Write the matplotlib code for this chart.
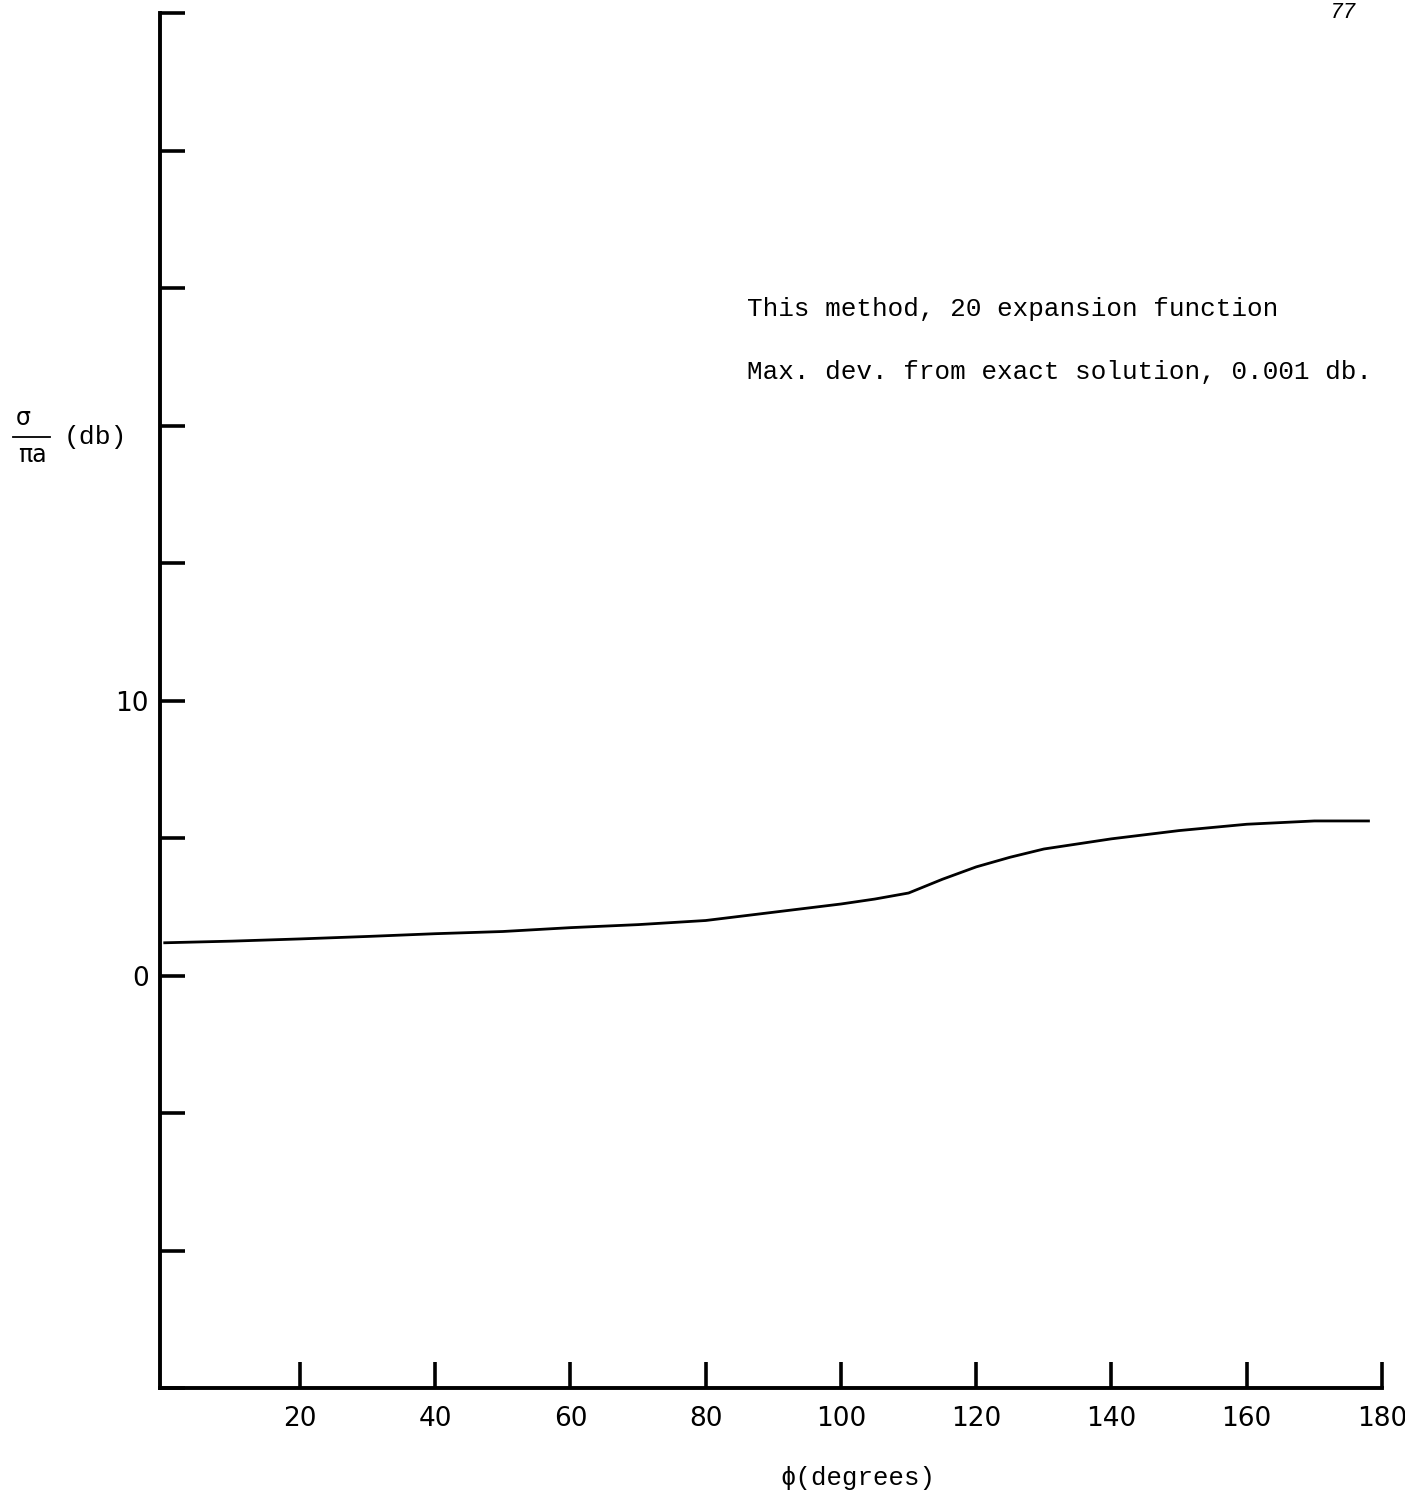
#!/usr/bin/env python3
"""
Normalized scattering cross-section vs. angle (scanned figure recreation)
"""

import matplotlib
matplotlib.use("Agg")
import matplotlib.pyplot as plt
from matplotlib.lines import Line2D

# curve
phi = [0, 10, 20, 30, 40, 50, 60, 70, 80, 90, 100, 105, 110, 115, 120,
       125, 130, 140, 150, 160, 170, 178]
sigma_db = [1.19, 1.25, 1.33, 1.42, 1.52, 1.60, 1.74, 1.85, 2.00, 2.30, 2.60,
            2.78, 3.00, 3.50, 3.95, 4.30, 4.60, 4.97, 5.27, 5.50, 5.62, 5.62]

xticks = [20, 40, 60, 80, 100, 120, 140, 160, 180]
yticks = [-15, -10, -5, 0, 5, 10, 15, 20, 25, 30, 35]
ytick_labels = ["", "", "", "0", "", "10", "", "", "", "", ""]

note_lines = ["This method, 20 expansion function",
              "Max. dev. from exact solution, 0.001 db."]

mono = ["Liberation Mono", "DejaVu Sans Mono"]
W, H = 1405, 1496


def fx(px):
    return px / W


def fy(py):
    return 1 - py / H


fig = plt.figure(figsize=(14.05, 14.96), dpi=100)
ax = fig.add_axes([fx(160), fy(1388), (1382 - 160) / W, (1388 - 13) / H])

ax.plot(phi, sigma_db, color="black", linewidth=2.0)

ax.set_xlim(-0.7, 180)
ax.set_ylim(-15, 35)

for side in ("top", "right"):
    ax.spines[side].set_visible(False)
for side in ("left", "bottom"):
    ax.spines[side].set_linewidth(2.8)

ax.set_xticks(xticks)
ax.set_xticklabels([str(t) for t in xticks])
ax.set_yticks(yticks)
ax.set_yticklabels(ytick_labels)
ax.tick_params(axis="both", direction="in", width=2.6, labelsize=19)
ax.tick_params(axis="y", length=18, pad=8)
ax.tick_params(axis="x", length=19, pad=13)

# annotation in typewriter font
fig.text(fx(747), fy(309), note_lines[0], family=mono, fontsize=18.7,
         ha="left", va="center")
fig.text(fx(747), fy(372), note_lines[1], family=mono, fontsize=18.7,
         ha="left", va="center")

# x label
fig.text(fx(858), fy(1478), "\u03d5(degrees)", family=mono,
         fontsize=18.5, ha="center", va="center")

# y label: sigma over pi a, then (db)
fig.text(fx(23), fy(418), "\u03c3", family="DejaVu Sans", fontsize=17,
         ha="center", va="center")
fig.add_artist(Line2D([fx(13), fx(50)], [fy(437), fy(437)],
                      transform=fig.transFigure, color="black", linewidth=1.3))
fig.text(fx(32), fy(455), "\u03c0a", family="DejaVu Sans", fontsize=17,
         ha="center", va="center")
fig.text(fx(64), fy(437), "(db)", family=mono, fontsize=19,
         ha="left", va="center")

# page number at the top edge of the scan
fig.text(fx(1330), fy(2), "77", family=mono, fontsize=16,
         ha="left", va="top", style="italic")

plt.savefig("out.png", dpi=100)
